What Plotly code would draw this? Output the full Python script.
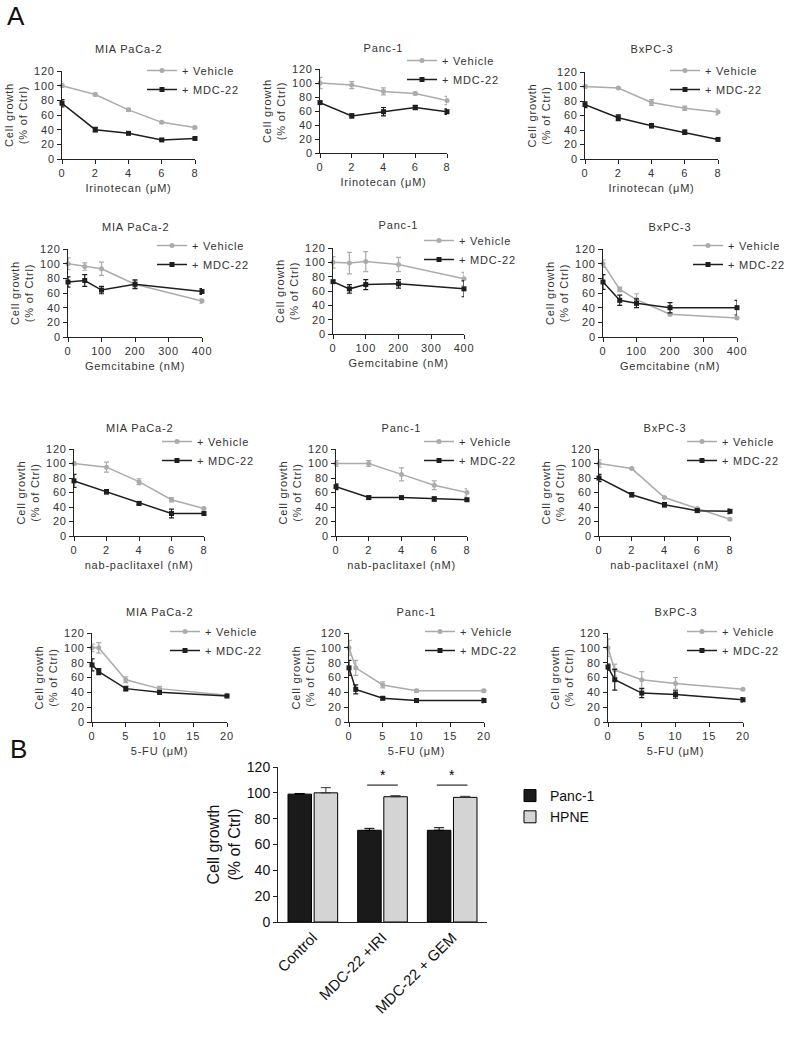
import plotly.graph_objects as go

W, H = 790, 1041

# ---------------- DATA ----------------
irinotecan_dose = [0, 2, 4, 6, 8]
gemcitabine_dose = [0, 50, 100, 200, 400]
nab_dose = [0, 2, 4, 6, 8]
fu_dose = [0, 1, 5, 10, 20]

cell_lines = ["MIA PaCa-2", "Panc-1", "BxPC-3"]
series_names = ["+ Vehicle", "+ MDC-22"]

# Irinotecan
mia_iri_veh = [100, 88, 67, 50, 43];      mia_iri_veh_err = [2, 2, 2, 1, 2]
mia_iri_mdc = [76, 40, 35, 26, 28];       mia_iri_mdc_err = [5, 3, 1, 1, 1]
panc_iri_veh = [100, 97, 88, 85, 75];     panc_iri_veh_err = [8, 5, 5, 2, 6]
panc_iri_mdc = [72, 53, 59, 65, 59];      panc_iri_mdc_err = [2, 3, 6, 3, 4]
bx_iri_veh = [100, 98, 78, 70, 65];       bx_iri_veh_err = [2, 1, 4, 3, 4]
bx_iri_mdc = [75, 57, 46, 37, 27];        bx_iri_mdc_err = [4, 4, 3, 3, 1]

# Gemcitabine
mia_gem_veh = [100, 96, 93, 72, 49];      mia_gem_veh_err = [8, 5, 9, 5, 3]
mia_gem_mdc = [75, 77, 64, 72, 62];       mia_gem_mdc_err = [7, 8, 5, 6, 4]
panc_gem_veh = [100, 99, 101, 97, 77];    panc_gem_veh_err = [8, 15, 14, 10, 9]
panc_gem_mdc = [73, 63, 69, 70, 63];      panc_gem_mdc_err = [2, 6, 7, 6, 11]
bx_gem_veh = [100, 65, 51, 31, 26];       bx_gem_veh_err = [5, 3, 8, 2, 1]
bx_gem_mdc = [75, 50, 46, 40, 40];        bx_gem_mdc_err = [10, 7, 6, 7, 10]

# nab-paclitaxel
mia_nab_veh = [100, 95, 75, 50, 38];      mia_nab_veh_err = [2, 7, 4, 3, 2]
mia_nab_mdc = [76, 61, 45, 31, 31];       mia_nab_mdc_err = [9, 3, 2, 6, 2]
panc_nab_veh = [100, 100, 85, 70, 60];    panc_nab_veh_err = [4, 4, 9, 6, 5]
panc_nab_mdc = [68, 53, 53, 51, 50];      panc_nab_mdc_err = [4, 2, 1, 3, 2]
bx_nab_veh = [100, 93, 53, 38, 23];       bx_nab_veh_err = [5, 1, 1, 1, 1]
bx_nab_mdc = [80, 57, 43, 35, 34];        bx_nab_mdc_err = [5, 3, 3, 2, 3]

# 5-FU
mia_fu_veh = [100, 100, 57, 45, 36];      mia_fu_veh_err = [5, 7, 4, 3, 1]
mia_fu_mdc = [77, 68, 45, 40, 35];        mia_fu_mdc_err = [8, 4, 3, 2, 1]
panc_fu_veh = [100, 73, 50, 42, 42];      panc_fu_veh_err = [10, 10, 4, 2, 2]
panc_fu_mdc = [73, 44, 32, 29, 29];       panc_fu_mdc_err = [10, 6, 2, 2, 3]
bx_fu_veh = [100, 70, 57, 52, 44];        bx_fu_veh_err = [12, 8, 11, 8, 1]
bx_fu_mdc = [74, 57, 39, 37, 30];         bx_fu_mdc_err = [4, 14, 6, 5, 3]

# Panel B
b_categories = ["Control", "MDC-22 +IRI", "MDC-22 + GEM"]
b_panc1 = [99, 71, 71];   b_panc1_err = [0.5, 1.5, 2]
b_hpne = [100, 97, 96.5]; b_hpne_err = [4, 0.8, 0.8]
b_sig_categories = ["MDC-22 +IRI", "MDC-22 + GEM"]
b_sig_level = 106

y_ticks = [0, 20, 40, 60, 80, 100, 120]

# ---------------- LAYOUT HELPERS ----------------
FONT = "Liberation Sans, Arial, sans-serif"
VEH_COLOR = "#ababab"
MDC_COLOR = "#1e1e1e"

def X(px):
    return px / W

def Y(py):
    return 1 - py / H

panels = [
    # (dose, xlabel, xticks, xmax, veh, veh_err, mdc, mdc_err, cell, plot box px, legend text start/first row px, title y px)
    (irinotecan_dose, "Irinotecan (μM)", [0, 2, 4, 6, 8], 8, mia_iri_veh, mia_iri_veh_err, mia_iri_mdc, mia_iri_mdc_err, 0, (62, 195, 71, 159), (182, 73), 49),
    (irinotecan_dose, "Irinotecan (μM)", [0, 2, 4, 6, 8], 8, panc_iri_veh, panc_iri_veh_err, panc_iri_mdc, panc_iri_mdc_err, 1, (320, 447, 69, 153), (442, 63), 48),
    (irinotecan_dose, "Irinotecan (μM)", [0, 2, 4, 6, 8], 8, bx_iri_veh, bx_iri_veh_err, bx_iri_mdc, bx_iri_mdc_err, 2, (585, 718, 72, 159), (705, 73), 49),
    (gemcitabine_dose, "Gemcitabine (nM)", [0, 100, 200, 300, 400], 400, mia_gem_veh, mia_gem_veh_err, mia_gem_mdc, mia_gem_mdc_err, 0, (68, 202, 249, 337), (192, 248), 227),
    (gemcitabine_dose, "Gemcitabine (nM)", [0, 100, 200, 300, 400], 400, panc_gem_veh, panc_gem_veh_err, panc_gem_mdc, panc_gem_mdc_err, 1, (333, 464, 248, 334), (459, 243), 225),
    (gemcitabine_dose, "Gemcitabine (nM)", [0, 100, 200, 300, 400], 400, bx_gem_veh, bx_gem_veh_err, bx_gem_mdc, bx_gem_mdc_err, 2, (603, 737, 249, 337), (728, 248), 227),
    (nab_dose, "nab-paclitaxel (nM)", [0, 2, 4, 6, 8], 8, mia_nab_veh, mia_nab_veh_err, mia_nab_mdc, mia_nab_mdc_err, 0, (74, 204, 449, 536), (197, 444), 428),
    (nab_dose, "nab-paclitaxel (nM)", [0, 2, 4, 6, 8], 8, panc_nab_veh, panc_nab_veh_err, panc_nab_mdc, panc_nab_mdc_err, 1, (336, 467, 449, 536), (459, 444), 428),
    (nab_dose, "nab-paclitaxel (nM)", [0, 2, 4, 6, 8], 8, bx_nab_veh, bx_nab_veh_err, bx_nab_mdc, bx_nab_mdc_err, 2, (599, 730, 449, 536), (722, 444), 428),
    (fu_dose, "5-FU (μM)", [0, 5, 10, 15, 20], 20, mia_fu_veh, mia_fu_veh_err, mia_fu_mdc, mia_fu_mdc_err, 0, (92, 227, 633, 722), (205, 634), 612),
    (fu_dose, "5-FU (μM)", [0, 5, 10, 15, 20], 20, panc_fu_veh, panc_fu_veh_err, panc_fu_mdc, panc_fu_mdc_err, 1, (349, 484, 633, 722), (460, 634), 612),
    (fu_dose, "5-FU (μM)", [0, 5, 10, 15, 20], 20, bx_fu_veh, bx_fu_veh_err, bx_fu_mdc, bx_fu_mdc_err, 2, (608, 743, 633, 722), (722, 634), 612),
]

fig = go.Figure()
layout = dict(
    width=W, height=H, margin=dict(l=0, r=0, t=0, b=0, autoexpand=False),
    paper_bgcolor="white", plot_bgcolor="white",
    font=dict(family=FONT, size=11, color="#333"),
    showlegend=True,
)
annotations = []
shapes = []

axis_common = dict(
    showgrid=False, zeroline=False, showline=True, linecolor="#222", linewidth=1,
    ticks="outside", ticklen=4, tickcolor="#222", tickwidth=1,
    tickfont=dict(family=FONT, size=11, color="#333"),
)

for i, (dose, xlabel, xticks, xmax, veh, veh_err, mdc, mdc_err, cell, box, leg, ty) in enumerate(panels):
    n = i + 1
    xa = "x" if n == 1 else f"x{n}"
    ya = "y" if n == 1 else f"y{n}"
    lg = "legend" if n == 1 else f"legend{n}"
    x0, x1, y0, y1 = box
    layout["xaxis" if n == 1 else f"xaxis{n}"] = dict(
        axis_common, domain=[X(x0), X(x1)], anchor=ya, range=[0, xmax],
        tickvals=xticks, title=dict(text=xlabel, font=dict(family=FONT, size=11, color="#333"), standoff=6),
    )
    layout["yaxis" if n == 1 else f"yaxis{n}"] = dict(
        axis_common, domain=[Y(y1), Y(y0)], anchor=xa, range=[0, 120],
        tickvals=y_ticks, title=dict(text="Cell growth<br>(% of Ctrl)", font=dict(family=FONT, size=11, color="#333"), standoff=6),
    )
    for name, vals, errs, color, sym in [
        (series_names[0], veh, veh_err, VEH_COLOR, "circle"),
        (series_names[1], mdc, mdc_err, MDC_COLOR, "square"),
    ]:
        fig.add_trace(go.Scatter(
            x=dose, y=vals, mode="lines+markers", name=name,
            line=dict(color=color, width=1.5),
            marker=dict(color=color, size=5, symbol=sym),
            error_y=dict(type="data", array=errs, color=color, thickness=1.2, width=2.5),
            xaxis=xa, yaxis=ya, legend=lg, cliponaxis=False,
        ))
    lx, ly = leg
    layout[lg] = dict(
        x=X(lx - 40), y=Y(ly - 17), xanchor="left", yanchor="top",
        bgcolor="rgba(0,0,0,0)", font=dict(family=FONT, size=11, color="#333"),
        itemwidth=30, tracegroupgap=0,
    )
    annotations.append(dict(
        text=cell_lines[cell], xref="paper", yref="paper", x=X((x0 + x1) / 2), y=Y(ty),
        xanchor="center", yanchor="middle", showarrow=False,
        font=dict(family=FONT, size=11, color="#333"),
    ))

# Panel B
nb = len(panels) + 1
xb, yb = f"x{nb}", f"y{nb}"
lgb = f"legend{nb}"
layout[f"xaxis{nb}"] = dict(
    axis_common, domain=[X(278), X(487)], anchor=yb, ticks="", tickangle=-45,
    tickfont=dict(family=FONT, size=15, color="#111"),
)
layout[f"yaxis{nb}"] = dict(
    axis_common, domain=[Y(922), Y(767)], anchor=xb, range=[0, 120], tickvals=y_ticks,
    tickfont=dict(family=FONT, size=14, color="#111"),
    title=dict(text="Cell growth<br>(% of Ctrl)", font=dict(family=FONT, size=16, color="#111"), standoff=2),
)
fig.add_trace(go.Bar(
    x=b_categories, y=b_panc1, name="Panc-1", marker=dict(color="#1a1a1a", line=dict(color="#000", width=1)),
    error_y=dict(type="data", symmetric=False, array=b_panc1_err, arrayminus=[0] * 3, color="#000", thickness=1, width=5),
    xaxis=xb, yaxis=yb, legend=lgb,
))
fig.add_trace(go.Bar(
    x=b_categories, y=b_hpne, name="HPNE", marker=dict(color="#d4d4d4", line=dict(color="#000", width=1)),
    error_y=dict(type="data", symmetric=False, array=b_hpne_err, arrayminus=[0] * 3, color="#333", thickness=1, width=5),
    xaxis=xb, yaxis=yb, legend=lgb,
))
layout["barmode"] = "group"
layout["bargap"] = 0.25
layout["bargroupgap"] = 0.1
layout[lgb] = dict(
    x=X(510), y=Y(780), xanchor="left", yanchor="top", bgcolor="rgba(0,0,0,0)",
    font=dict(family=FONT, size=14, color="#111"),
)
for cat in b_sig_categories:
    idx = b_categories.index(cat)
    shapes.append(dict(type="line", xref=xb, yref=yb, x0=idx - 0.22, x1=idx + 0.22,
                       y0=b_sig_level, y1=b_sig_level, line=dict(color="#000", width=1)))
    annotations.append(dict(text="*", xref=xb, yref=yb, x=idx, y=b_sig_level, yanchor="bottom",
                            showarrow=False, font=dict(family=FONT, size=14, color="#000")))

# Panel letters
annotations.append(dict(text="A", xref="paper", yref="paper", x=X(5), y=Y(16), xanchor="left", yanchor="middle",
                        showarrow=False, font=dict(family=FONT, size=26, color="#111")))
annotations.append(dict(text="B", xref="paper", yref="paper", x=X(8), y=Y(749), xanchor="left", yanchor="middle",
                        showarrow=False, font=dict(family=FONT, size=26, color="#111")))

layout["annotations"] = annotations
layout["shapes"] = shapes
fig.update_layout(**layout)

# page styling: no body margin; GraphPad-like letter spacing on the small panel-A texts
post = (
    "document.body.style.margin='0';document.body.style.overflow='hidden';"
    "document.querySelectorAll('.main-svg text').forEach(function(t){"
    "var fs=parseFloat(t.style.fontSize||'0');if(fs>0&&fs<12){t.style.letterSpacing='0.8px';}});"
)
fig.write_html("out.html", config={"displayModeBar": False}, post_script=post)
